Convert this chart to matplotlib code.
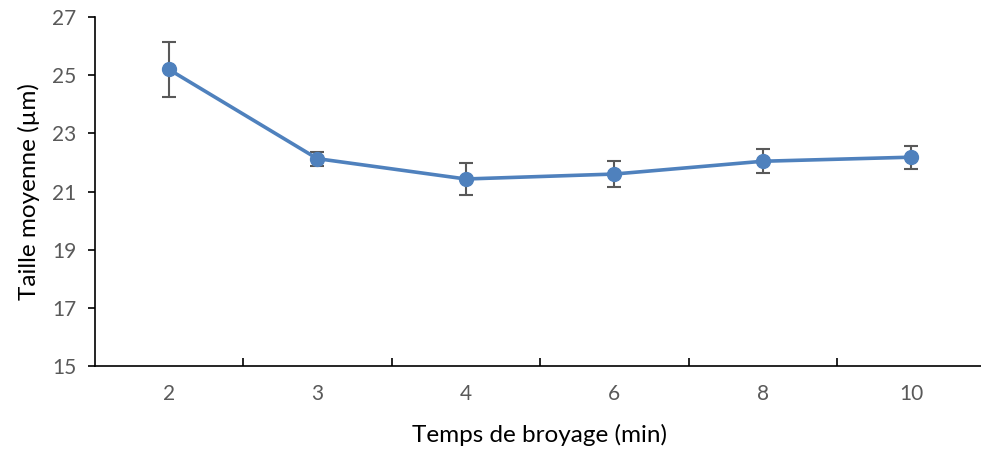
import numpy as np
import matplotlib.pyplot as plt
from matplotlib.ticker import FixedLocator

plt.rcParams['font.family'] = ['Lato', 'DejaVu Sans']

# Grinding time categories and mean particle size with error
temps = ['2', '3', '4', '6', '8', '10']
taille = [25.2, 22.13, 21.43, 21.6, 22.04, 22.18]
erreur = [0.95, 0.24, 0.56, 0.45, 0.42, 0.4]

fig = plt.figure(figsize=(9.81, 4.54), dpi=100)
ax = fig.add_axes([94.5 / 981, 88 / 454, 891 / 981, 349 / 454])

x = np.arange(len(temps))
ax.errorbar(x, taille, yerr=erreur, color='#4F81BD', linewidth=2.6,
            marker='o', markersize=10, ecolor='#595959', elinewidth=1.5,
            capsize=5, capthick=1.5, zorder=3)

ax.set_xlim(-0.5, len(temps) - 0.5)
ax.set_ylim(15, 27)
ax.set_yticks(np.arange(15, 28, 2))
ax.set_xticks(x)
ax.set_xticklabels(temps)
ax.xaxis.set_minor_locator(FixedLocator(np.arange(0.5, len(temps) - 0.5, 1)))

for side in ['top', 'right']:
    ax.spines[side].set_visible(False)
for side in ['left', 'bottom']:
    ax.spines[side].set_color('#000000')
    ax.spines[side].set_linewidth(1.2)

ax.tick_params(axis='y', direction='out', length=5, width=1.2,
               labelsize=15, labelcolor='#595959', pad=8)
ax.tick_params(axis='x', which='major', length=0, labelsize=15,
               labelcolor='#595959', pad=13)
ax.tick_params(axis='x', which='minor', direction='in', length=6, width=1.2)

ax.set_xlabel('Temps de broyage (min)', fontsize=17.5, labelpad=14)
ax.set_ylabel('Taille moyenne (µm)', fontsize=17.5, labelpad=9)

fig.savefig('out.png', dpi=100)
